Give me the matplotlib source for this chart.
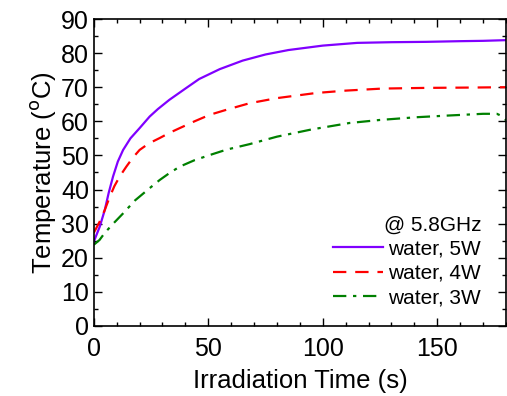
import numpy as np
import matplotlib.pyplot as plt
from matplotlib.ticker import MultipleLocator

plt.rcParams['font.family'] = ['Liberation Sans', 'DejaVu Sans']

# Readings from the reference (time in s, temperature in degC)
t_5w = [0, 2.6, 4.8, 6.5, 8.4, 10.5, 12.8, 16, 20, 24.4, 28, 33, 40, 46, 55, 65, 75, 85, 100, 115, 130, 145, 160, 170, 180]
temp_5w = [24.7, 29.1, 34, 39, 43.8, 48.2, 51.6, 55, 58, 61.4, 63.6, 66.3, 69.6, 72.4, 75.3, 77.8, 79.6, 80.9, 82.2, 83, 83.2, 83.3, 83.5, 83.6, 83.8]

t_4w = [0, 2.5, 4.8, 7, 9, 11.3, 14.2, 17, 20, 24, 28.8, 33, 37.5, 44, 50.6, 58, 68, 80, 97, 110, 126, 145, 165, 180]
temp_4w = [27.3, 30.5, 34, 37.9, 41, 43.8, 46.7, 49.3, 51.6, 53.5, 55.1, 56.6, 58, 60, 61.9, 63.4, 65.3, 66.8, 68.3, 69, 69.6, 69.8, 69.9, 70]

t_3w = [0, 2.5, 4.8, 8.5, 12.8, 18, 24.4, 28.8, 33, 37.5, 44, 50.6, 58, 68, 80, 95, 111.6, 125, 141, 155, 170, 176, 178, 180]
temp_3w = [23.8, 25.2, 27.3, 30, 33, 36.8, 40.4, 42.8, 44.8, 46.7, 48.6, 50.1, 51.7, 53.3, 55.5, 57.6, 59.5, 60.4, 61.2, 61.7, 62.2, 62.2, 61.6, 60.3]

fig, ax = plt.subplots(figsize=(5.07, 3.96), dpi=100)
fig.subplots_adjust(left=0.185, right=0.998, bottom=0.177, top=0.952)

ax.plot(t_5w, temp_5w, color='#8000ff', lw=1.6, label='water, 5W')
ax.plot(t_4w, temp_4w, color='#ff0000', lw=1.6, ls=(0, (6, 4)), label='water, 4W')
ax.plot(t_3w, temp_3w, color='#008000', lw=1.6, ls=(0, (6, 3, 1.5, 3)), label='water, 3W')

ax.set_xlim(0, 180)
ax.set_ylim(0, 90)
ax.xaxis.set_major_locator(MultipleLocator(50))
ax.xaxis.set_minor_locator(MultipleLocator(10))
ax.yaxis.set_major_locator(MultipleLocator(10))
ax.yaxis.set_minor_locator(MultipleLocator(5))
ax.tick_params(which='both', direction='in', top=True, right=True, width=1)
ax.tick_params(which='major', length=6, labelsize=18)
ax.tick_params(axis='x', which='major', pad=8)
ax.tick_params(which='minor', length=3)
for s in ax.spines.values():
    s.set_linewidth(1.2)

ax.set_xlabel('Irradiation Time (s)', fontsize=18.5, labelpad=6)
ax.set_ylabel('Temperature ($^{\\rm o}$C)', fontsize=18.5, labelpad=2)

leg = ax.legend(title='@ 5.8GHz', loc='lower right', frameon=False, fontsize=15,
                title_fontsize=15, handlelength=2.4, handletextpad=0.25,
                labelspacing=0.25, alignment='right',
                bbox_to_anchor=(0.985, 0.0))

fig.savefig('out.png', dpi=100)
